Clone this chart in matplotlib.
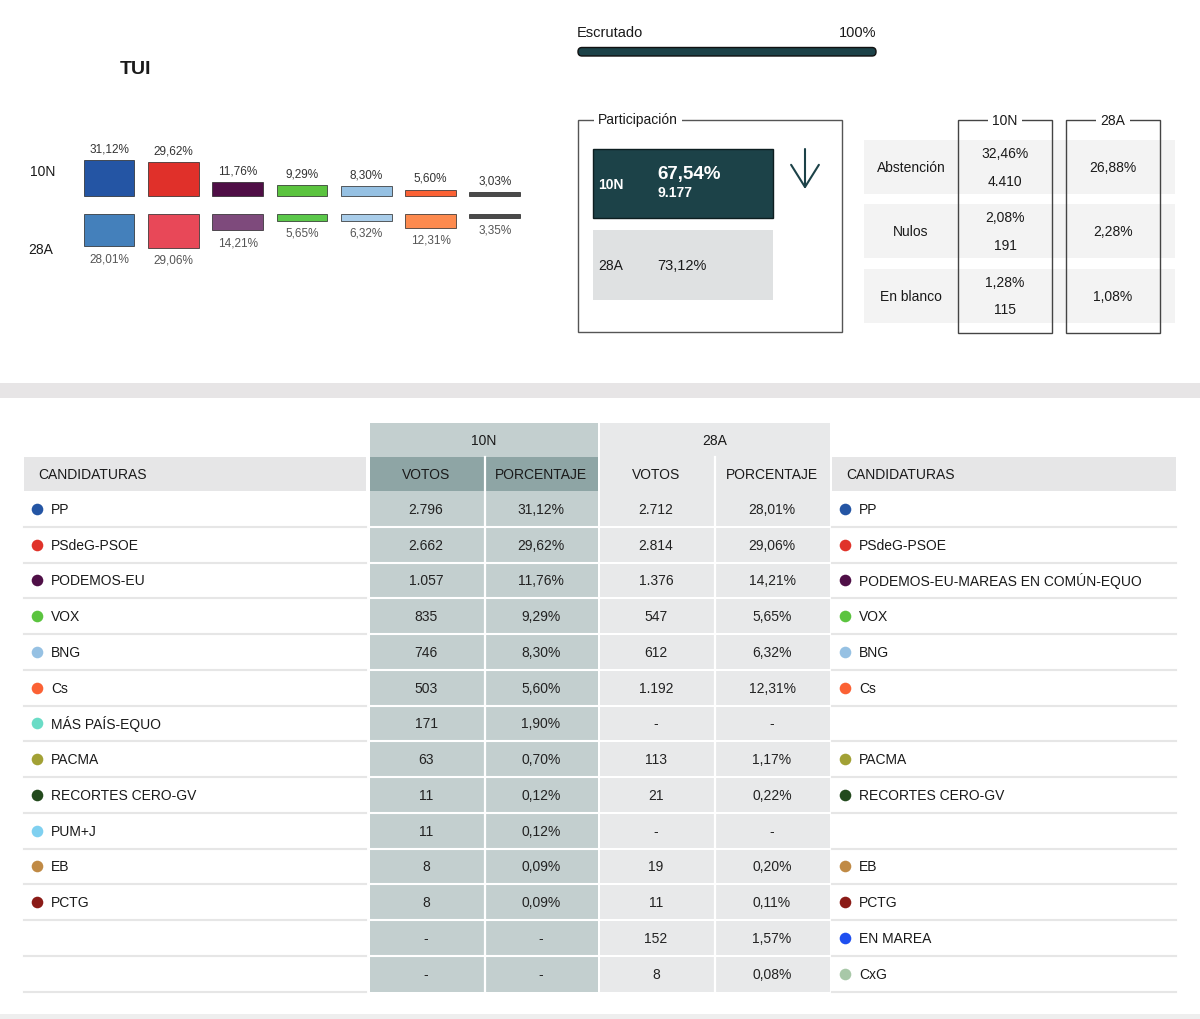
import matplotlib.pyplot as plt
from matplotlib.patches import Rectangle, FancyBboxPatch

plt.rcParams['font.family'] = ['Liberation Sans', 'DejaVu Sans']

# ---- data ----
town = "TUI"
scrutiny = 100

bar_pct_10n = [31.12, 29.62, 11.76, 9.29, 8.30, 5.60, 3.03]
bar_pct_28a = [28.01, 29.06, 14.21, 5.65, 6.32, 12.31, 3.35]
bar_col_10n = ['#2455a4', '#e0302a', '#4f0e46', '#5bc43f', '#96c1e3', '#fb6134', '#4a4a4a']
bar_col_28a = ['#4480bb', '#e84858', '#7e4a7c', '#5bc84a', '#a9cdea', '#fd8a4e', '#4a4a4a']

part_10n = 67.54
part_10n_votes = 9177
part_28a = 73.12

summary_labels = ["Abstención", "Nulos", "En blanco"]
summary_10n_pct = [32.46, 2.08, 1.28]
summary_10n_votes = [4410, 191, 115]
summary_28a_pct = [26.88, 2.28, 1.08]

parties_10n = ["PP", "PSdeG-PSOE", "PODEMOS-EU", "VOX", "BNG", "Cs", "MÁS PAÍS-EQUO",
               "PACMA", "RECORTES CERO-GV", "PUM+J", "EB", "PCTG", None, None]
votes_10n = [2796, 2662, 1057, 835, 746, 503, 171, 63, 11, 11, 8, 8, None, None]
pct_10n = [31.12, 29.62, 11.76, 9.29, 8.30, 5.60, 1.90, 0.70, 0.12, 0.12, 0.09, 0.09, None, None]
parties_28a = ["PP", "PSdeG-PSOE", "PODEMOS-EU-MAREAS EN COMÚN-EQUO", "VOX", "BNG", "Cs", None,
               "PACMA", "RECORTES CERO-GV", None, "EB", "PCTG", "EN MAREA", "CxG"]
votes_28a = [2712, 2814, 1376, 547, 612, 1192, None, 113, 21, None, 19, 11, 152, 8]
pct_28a = [28.01, 29.06, 14.21, 5.65, 6.32, 12.31, None, 1.17, 0.22, None, 0.20, 0.11, 1.57, 0.08]

party_colors = {
    "PP": '#2455a4', "PSdeG-PSOE": '#e0332a', "PODEMOS-EU": '#4f0f47',
    "PODEMOS-EU-MAREAS EN COMÚN-EQUO": '#4f0f47', "VOX": '#5bc43f', "BNG": '#96c1e3',
    "Cs": '#fb6134', "MÁS PAÍS-EQUO": '#6adcc6', "PACMA": '#a2a135',
    "RECORTES CERO-GV": '#234a1d', "PUM+J": '#7fd0f0', "EB": '#c08a45',
    "PCTG": '#8b1b17', "EN MAREA": '#1f4ff0', "CxG": '#a8c8a8',
}


def fmt_int(v):
    return '-' if v is None else f"{v:,}".replace(",", ".")


def fmt_pct(v):
    return '-' if v is None else f"{v:.2f}%".replace(".", ",")


W, H = 1200, 1020
fig = plt.figure(figsize=(12, 10.2), dpi=100)
ax = fig.add_axes([0, 0, 1, 1])
ax.set_xlim(0, W)
ax.set_ylim(H, 0)
ax.axis('off')

TXT = '#1a1a1a'
DARK = '#1c4248'

# ---- header ----
ax.text(120, 69, town, fontsize=14, fontweight='bold', va='center', color=TXT)
ax.text(577, 33, "Escrutado", fontsize=10.5, va='center', color=TXT)
ax.text(876, 33, f"{scrutiny}%", fontsize=10.5, va='center', ha='right', color=TXT)
ax.add_patch(FancyBboxPatch((578, 48.5), 298 * scrutiny / 100, 8.5,
                            boxstyle='round,pad=0,rounding_size=4',
                            facecolor=DARK, edgecolor='#111111', lw=1))

# ---- bars 10N / 28A ----
px_per_pct = 1.16
bx0, bx1, by0, by1 = 60, 540, 130, 285
mid = 206
bax = fig.add_axes([bx0 / W, 1 - by1 / H, (bx1 - bx0) / W, (by1 - by0) / H])
step = 64.3
first = 109
bax.set_xlim((bx0 - first) / step, (bx1 - first) / step)
bax.set_ylim(-(by1 - mid) / px_per_pct, (mid - by0) / px_per_pct)
bax.axis('off')
gap = 9 / px_per_pct
xs = list(range(len(bar_pct_10n)))
bax.bar(xs, bar_pct_10n, bottom=gap, width=0.79, color=bar_col_10n,
        edgecolor='#222222', linewidth=0.5)
bax.bar(xs, [-v for v in bar_pct_28a], bottom=-gap, width=0.79, color=bar_col_28a,
        edgecolor='#222222', linewidth=0.5)
for i in xs:
    bax.annotate(fmt_pct(bar_pct_10n[i]), (i, gap + bar_pct_10n[i]), xytext=(0, 4),
                 textcoords='offset points', ha='center', va='bottom', fontsize=8.5, color='#333333')
    bax.annotate(fmt_pct(bar_pct_28a[i]), (i, -gap - bar_pct_28a[i]), xytext=(0, -4),
                 textcoords='offset points', ha='center', va='top', fontsize=8.5, color='#555555')
ax.text(30, 172, "10N", fontsize=10, va='center', color=TXT)
ax.text(28, 250, "28A", fontsize=10, va='center', color=TXT)

# ---- participation box ----
ax.add_patch(Rectangle((578, 121), 264, 212, facecolor='none', edgecolor='#555555', lw=1))
ax.text(598, 120, "Participación", fontsize=10, va='center', color=TXT,
        bbox=dict(facecolor='white', edgecolor='none', pad=3))
ax.add_patch(Rectangle((593, 150), 180, 69, facecolor=DARK, edgecolor='#0d1e20', lw=1))
ax.text(598, 185, "10N", fontsize=10, va='center', color='white', fontweight='bold')
ax.text(657, 175, fmt_pct(part_10n), fontsize=13.5, va='center', color='white', fontweight='bold')
ax.text(657, 193, fmt_int(part_10n_votes), fontsize=10, va='center', color='white', fontweight='bold')
ax.add_patch(Rectangle((593, 231), 180, 70, facecolor='#dfe1e2', edgecolor='none'))
ax.text(598, 266, "28A", fontsize=10, va='center', color=TXT)
ax.text(657, 266, fmt_pct(part_28a), fontsize=10.5, va='center', color=TXT)
arrow_down = part_10n < part_28a
ax.annotate('', xy=(805, 190 if arrow_down else 150), xytext=(805, 150 if arrow_down else 190),
            arrowprops=dict(arrowstyle='->,head_length=0.8,head_width=0.5', lw=1.5,
                            color=DARK, mutation_scale=20, shrinkA=0, shrinkB=0))

# ---- summary table ----
row_c = [168, 232, 297]
for k, lab in enumerate(summary_labels):
    ax.add_patch(Rectangle((864, row_c[k] - 27), 311, 54, facecolor='#f3f3f3', edgecolor='none'))
    ax.text(911, row_c[k], lab, fontsize=10, ha='center', va='center', color=TXT)
    ax.text(1005, row_c[k] - 13.5, fmt_pct(summary_10n_pct[k]), fontsize=10, ha='center', va='center', color=TXT)
    ax.text(1005, row_c[k] + 13.5, fmt_int(summary_10n_votes[k]), fontsize=10, ha='center', va='center', color=TXT)
    ax.text(1113, row_c[k], fmt_pct(summary_28a_pct[k]), fontsize=10, ha='center', va='center', color=TXT)
for x0, lab in [(958, "10N"), (1066, "28A")]:
    ax.add_patch(Rectangle((x0, 121), 94, 213, facecolor='none', edgecolor='#444444', lw=1))
    ax.text(x0 + 47, 121, lab, fontsize=10, ha='center', va='center', color=TXT,
            bbox=dict(facecolor='white', edgecolor='none', pad=3))

# ---- separator bands ----
ax.add_patch(Rectangle((0, 384), W, 15, facecolor='#e7e5e6', edgecolor='none'))
ax.add_patch(Rectangle((0, 1015), W, 5, facecolor='#eeeeee', edgecolor='none'))

# ---- results table ----
C10 = '#c3cfcf'
C10H = '#8ea5a5'
C28 = '#e8e9ea'
CH = '#e6e6e7'
ax.add_patch(Rectangle((370, 424), 228, 34, facecolor=C10, edgecolor='none'))
ax.add_patch(Rectangle((600, 424), 230, 34, facecolor=C28, edgecolor='none'))
ax.text(484, 441, "10N", fontsize=10, ha='center', va='center', color=TXT)
ax.text(715, 441, "28A", fontsize=10, ha='center', va='center', color=TXT)

hy, hh = 458, 34
ax.add_patch(Rectangle((24, hy), 342, hh, facecolor=CH, edgecolor='none'))
ax.add_patch(Rectangle((832, hy), 344, hh, facecolor=CH, edgecolor='none'))
ax.add_patch(Rectangle((370, hy), 228, hh, facecolor=C10H, edgecolor='none'))
ax.add_patch(Rectangle((600, hy), 230, hh, facecolor=C28, edgecolor='none'))
ax.text(38, hy + hh / 2, "CANDIDATURAS", fontsize=10, va='center', color=TXT)
ax.text(846, hy + hh / 2, "CANDIDATURAS", fontsize=10, va='center', color=TXT)
col_x = [426, 541, 656, 772]
for cx, lab in zip(col_x, ["VOTOS", "PORCENTAJE", "VOTOS", "PORCENTAJE"]):
    ax.text(cx, hy + hh / 2, lab, fontsize=10, ha='center', va='center', color=TXT)

top = 492
rh = 35.75
n = len(votes_10n)
bottom = top + n * rh
ax.add_patch(Rectangle((370, top), 228, n * rh, facecolor=C10, edgecolor='none'))
ax.add_patch(Rectangle((600, top), 230, n * rh, facecolor=C28, edgecolor='none'))
for vx in [484.5, 714.5]:
    ax.plot([vx, vx], [hy, bottom], color='white', lw=1.6)
for i in range(n):
    yc = top + rh * (i + 0.5)
    yb = top + rh * (i + 1)
    ax.plot([24, 366], [yb, yb], color='#e6e6e6', lw=1.5)
    ax.plot([832, 1176], [yb, yb], color='#e6e6e6', lw=1.5)
    if i < n - 1:
        ax.plot([370, 830], [yb, yb], color='white', lw=1.5)
    vals = [fmt_int(votes_10n[i]), fmt_pct(pct_10n[i]), fmt_int(votes_28a[i]), fmt_pct(pct_28a[i])]
    for cx, v in zip(col_x, vals):
        ax.text(cx, yc, v, fontsize=10, ha='center', va='center', color='#222222')
    for name, dx in [(parties_10n[i], 37), (parties_28a[i], 845)]:
        if name is None:
            continue
        ax.scatter([dx], [yc], s=70, color=party_colors[name], zorder=3, linewidths=0)
        ax.text(dx + 14, yc, name, fontsize=10, va='center', color=TXT)

fig.savefig('out.png', dpi=100, facecolor='white')
